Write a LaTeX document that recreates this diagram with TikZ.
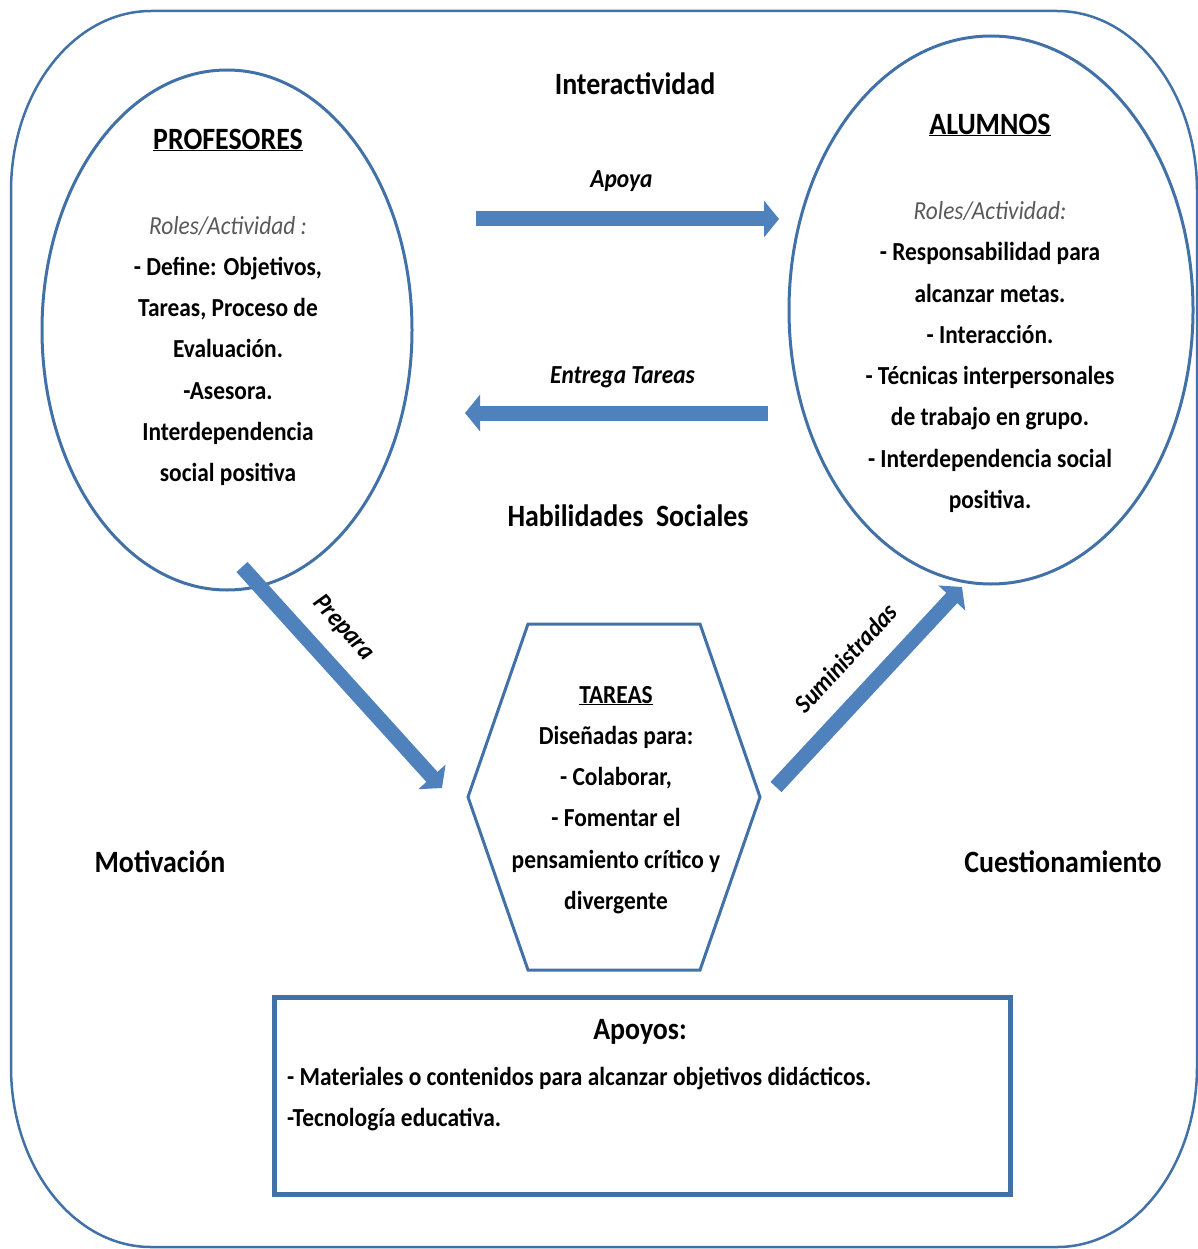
\documentclass[tikz,border=0pt]{standalone}
\usepackage{fontspec}
\setmainfont{Carlito}[FakeStretch=0.9]
\usepackage{xcolor}
\usepackage{tikz}
\usetikzlibrary{calc, shapes, arrows.meta, positioning}
\definecolor{azul}{RGB}{66,113,168}
\definecolor{azulflecha}{RGB}{79,129,189}
\definecolor{gris}{RGB}{89,89,89}
\tikzset{
 linea/.style={draw=azul, line width=3pt},
 elipse/.style={ellipse, linea, inner sep=0pt},
 grande/.style={inner sep=0pt, font=\fontsize{31}{37}\selectfont\bfseries},
 texto/.style={inner sep=0pt, align=center, font=\fontsize{26}{41.3}\selectfont\bfseries},
 etiqueta/.style={inner sep=0pt, font=\fontsize{26}{30}\selectfont\bfseries\itshape},
 flecha/.style={draw=azulflecha, line width=15pt, -{Triangle[width=36pt,length=15pt]}}
}

\begin{document}
\begin{tikzpicture}[x=1pt, y=-1pt]
\useasboundingbox (0,0) rectangle (1198,1249);
\draw[draw=azul, line width=2.5pt] (151,11) -- (1057,11)
  arc[start angle=270, end angle=360, x radius=140, y radius=180] -- (1197,1067)
  arc[start angle=0, end angle=90, x radius=140, y radius=180] -- (151,1247)
  arc[start angle=90, end angle=180, x radius=140, y radius=180] -- (11,191)
  arc[start angle=180, end angle=270, x radius=140, y radius=180] -- cycle;

\node[elipse, minimum width=370, minimum height=520](profesores) at (227,330){};
\node[grande](profesorestit) at (228,140){\underline{PROFESORES}};
\node[texto](profesorestxt) at (228,351){
{\color{gris}\mdseries\itshape Roles/Actividad :}\\
- Define: Objetivos,\\
Tareas, Proceso de\\
Evaluación.\\
-Asesora.\\
Interdependencia\\
social positiva};

\node[elipse, minimum width=404, minimum height=548](alumnos) at (991,310){};
\node[grande](alumnostit) at (990,125){\underline{ALUMNOS}};
\node[texto](alumnostxt) at (990,357){
{\color{gris}\mdseries\itshape Roles/Actividad:}\\
- Responsabilidad para\\
alcanzar metas.\\
- Interacción.\\
- Técnicas interpersonales\\
de trabajo en grupo.\\
- Interdependencia social\\
positiva.};

\node[grande](interactividad) at (635,84){Interactividad};
\node[grande](habilidades) at (628,516){Habilidades\ \ Sociales};
\node[grande](motivacion) at (160,862){Motivación};
\node[grande](cuestionamiento) at (1063,862){Cuestionamiento};

\draw[linea] (528,624) -- (700,624) -- (760,797) -- (700,970) -- (528,970) -- (468,797) -- cycle;
\node[texto](tareas) at (616,800){
\underline{TAREAS}\\
Diseñadas para:\\
- Colaborar,\\
- Fomentar el\\
pensamiento crítico y\\
divergente};

\node[draw=azul, line width=5pt, minimum width=736, minimum height=197](apoyos) at (642,1096){};
\node[grande](apoyostit) at (640,1032){Apoyos:};
\node[texto, align=left, anchor=west](apoyostxt) at (287,1099){
- Materiales o contenidos para alcanzar objetivos didácticos.\\
-Tecnología educativa.};

\coordinate (apoyaini) at (476,219);
\coordinate (apoyafin) at (779,219);
\coordinate (entregaini) at (768,413);
\coordinate (entregafin) at (465,413);
\coordinate (preparaini) at (242,567);
\coordinate (preparafin) at (442,788);
\coordinate (suministraini) at (776,787);
\coordinate (suministrafin) at (962,587);
\path[flecha](apoyaini) -- node[etiqueta, pos=0.48, above=20pt](apoya){Apoya} (apoyafin);
\path[flecha](entregaini) -- node[etiqueta, pos=0.48, above=18pt](entrega){Entrega Tareas} (entregafin);
\path[flecha](preparaini) -- node[etiqueta, sloped, pos=0.38, above=16pt](prepara){Prepara} (preparafin);
\path[flecha](suministraini) -- node[etiqueta, sloped, pos=0.52, above=20pt](suministra){Suministradas} (suministrafin);
\end{tikzpicture}
\end{document}
